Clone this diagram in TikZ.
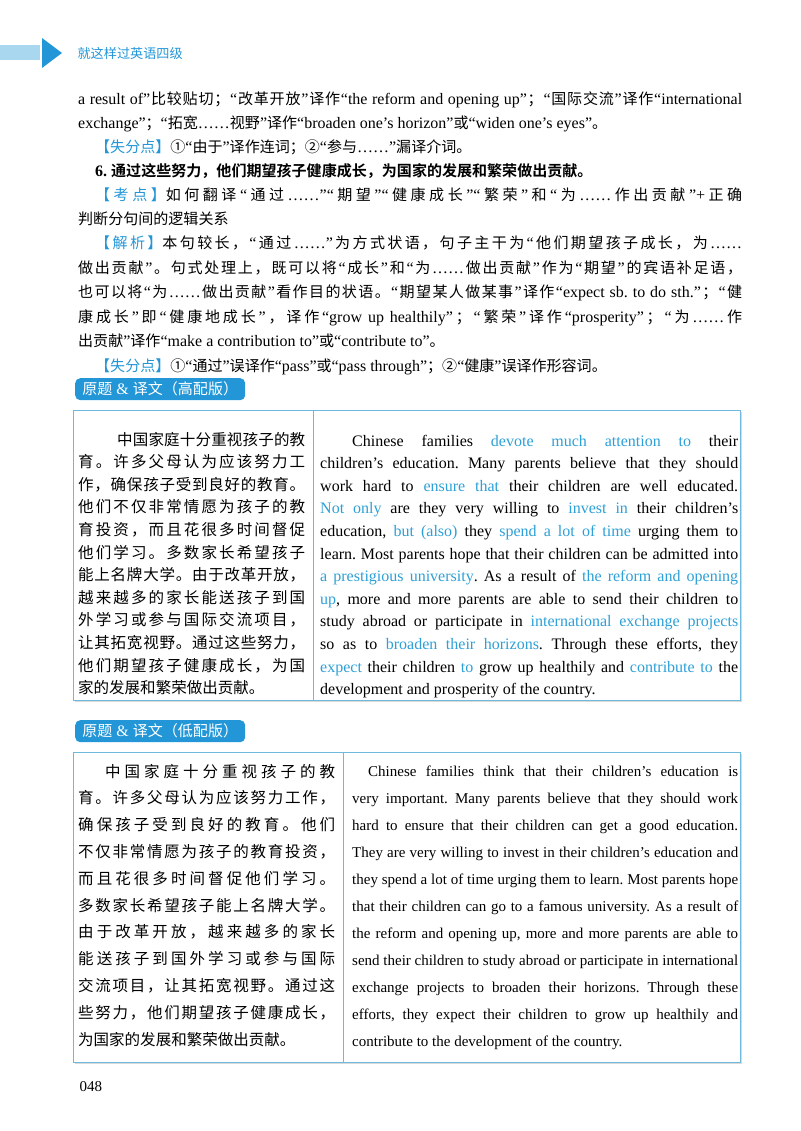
\documentclass[tikz,border=0pt]{standalone}
\usepackage{fontspec}
\setmainfont{Liberation Serif}
\newfontfamily\cjk{Noto Sans CJK SC}[Scale=0.94, BoldFont={Noto Sans CJK SC Bold}]
\usetikzlibrary{positioning}
\definecolor{pg_blue}{RGB}{35,150,215}
\definecolor{pg_light}{RGB}{170,215,240}
\definecolor{pg_hl}{RGB}{45,160,215}
\definecolor{pg_frame}{RGB}{110,185,220}
\frenchspacing
% CJK characters switch to the CJK family
\XeTeXinterchartokenstate=1
\newXeTeXintercharclass\cjkclass
\newcount\cjkc
\cjkc="3000 \loop \XeTeXcharclass\cjkc=\cjkclass \advance\cjkc by 1 \ifnum\cjkc<"A000 \repeat
\cjkc="FF00 \loop \XeTeXcharclass\cjkc=\cjkclass \advance\cjkc by 1 \ifnum\cjkc<"FFF0 \repeat
\cjkc="2460 \loop \XeTeXcharclass\cjkc=\cjkclass \advance\cjkc by 1 \ifnum\cjkc<"2474 \repeat
\XeTeXinterchartoks 0 \cjkclass = {\hskip0pt plus 3pt\cjk}
\XeTeXinterchartoks 4095 \cjkclass = {\cjk}
\XeTeXinterchartoks \cjkclass 0 = {\rmfamily\hskip0pt plus 3pt}
\XeTeXinterchartoks \cjkclass 4095 = {\rmfamily}
\XeTeXinterchartoks \cjkclass \cjkclass = {\hskip0pt plus 3pt}
\newcommand\hl[1]{\textcolor{pg_hl}{#1}}
\newcommand\tag[1]{\textcolor{pg_blue}{#1}}
\newcommand\tline[4]{\node[anchor=base west, inner sep=0pt] at (#1,#2) {\makebox[#3pt][s]{#4}};}
\newcommand\pline[3]{\node[anchor=base west, inner sep=0pt] at (#1,#2) {#3};}
\tikzset{
  labelbox/.style={fill=pg_blue, rounded corners=5pt, text=white, inner sep=3pt,
    minimum height=22pt, minimum width=170pt, anchor=north west, font=\fontsize{16}{17}\selectfont},
  tablebox/.style={draw=pg_frame, line width=0.9pt},
}
\begin{document}
\begin{tikzpicture}[x=1pt, y=-1pt]
  \useasboundingbox (0,0) rectangle (800,1131);
  % header
  \fill[pg_light] (0,45) rectangle (40,60);
  \fill[pg_blue] (42,38) -- (62,53) -- (42,68) -- cycle;
  \node[anchor=west, text=pg_blue, font=\fontsize{14}{15}\selectfont] (head) at (74,53) {就这样过英语四级};

  % notes
  \begin{scope}[every node/.style={font=\fontsize{16}{18}\selectfont}]
    \tline{78}{105}{664}{a result of”比较贴切；“改革开放”译作“the reform and opening up”；“国际交流”译作“international}
    \pline{78}{129}{exchange”；“拓宽……视野”译作“broaden one’s horizon”或“widen one’s eyes”。}
    \pline{95}{153}{\tag{【失分点】}①“由于”译作连词；②“参与……”漏译介词。}
    \pline{95}{177}{\bfseries 6. 通过这些努力，他们期望孩子健康成长，为国家的发展和繁荣做出贡献。}
    \tline{95}{201}{647}{\tag{【考点】}如何翻译“通过……”“期望”“健康成长”“繁荣”和“为……作出贡献”+正确}
    \pline{78}{225}{判断分句间的逻辑关系}
    \tline{95}{249}{647}{\tag{【解析】}本句较长，“通过……”为方式状语，句子主干为“他们期望孩子成长，为……}
    \tline{78}{273}{664}{做出贡献”。句式处理上，既可以将“成长”和“为……做出贡献”作为“期望”的宾语补足语，}
    \tline{78}{298}{664}{也可以将“为……做出贡献”看作目的状语。“期望某人做某事”译作“expect sb. to do sth.”；“健}
    \tline{78}{322}{664}{康成长”即“健康地成长”，译作“grow up healthily”；“繁荣”译作“prosperity”；“为……作}
    \pline{78}{346}{出贡献”译作“make a contribution to”或“contribute to”。}
    \pline{95}{371}{\tag{【失分点】}①“通过”误译作“pass”或“pass through”；②“健康”误译作形容词。}
  \end{scope}

  % version 1
  \node[labelbox] (label1) at (75,378) {原题 \& 译文（高配版）};
  \fill[gray!30] (75,412) rectangle (742,702);
  \draw[tablebox, fill=white] (73,410) rectangle (740,700);
  \draw[tablebox] (313,410) -- (313,700);
  \begin{scope}[every node/.style={font=\fontsize{16.5}{18}\selectfont}]
    \foreach \txt [count=\i] in {育。许多父母认为应该努力工,作，确保孩子受到良好的教育。,
        他们不仅非常情愿为孩子的教,育投资，而且花很多时间督促,他们学习。多数家长希望孩子,
        能上名牌大学。由于改革开放，,越来越多的家长能送孩子到国,外学习或参与国际交流项目，,
        让其拓宽视野。通过这些努力，,他们期望孩子健康成长，为国}
      { \tline{78}{445+22.6*\i}{227}{\txt} }
    \tline{117}{445}{188}{中国家庭十分重视孩子的教}
    \pline{78}{693.6}{家的发展和繁荣做出贡献。}
  \end{scope}
  \begin{scope}[every node/.style={font=\fontsize{16}{17}\selectfont}]
    \tline{352}{446}{386}{Chinese families \hl{devote much attention to} their}
    \tline{320}{468.6}{418}{children’s education. Many parents believe that they should}
    \tline{320}{491.2}{418}{work hard to \hl{ensure that} their children are well educated.}
    \tline{320}{513.8}{418}{\hl{Not only} are they very willing to \hl{invest in} their children’s}
    \tline{320}{536.4}{418}{education, \hl{but (also)} they \hl{spend a lot of time} urging them to}
    \tline{320}{559.0}{418}{learn. Most parents hope that their children can be admitted into}
    \tline{320}{581.6}{418}{\hl{a prestigious university}. As a result of \hl{the reform and opening}}
    \tline{320}{604.2}{418}{\hl{up}, more and more parents are able to send their children to}
    \tline{320}{626.8}{418}{study abroad or participate in \hl{international exchange projects}}
    \tline{320}{649.4}{418}{so as to \hl{broaden their horizons}. Through these efforts, they}
    \tline{320}{672.0}{418}{\hl{expect} their children \hl{to} grow up healthily and \hl{contribute to} the}
    \pline{320}{694.6}{development and prosperity of the country.}
  \end{scope}

  % version 2
  \node[labelbox] (label2) at (75,720) {原题 \& 译文（低配版）};
  \fill[gray!30] (75,754) rectangle (742,1064);
  \draw[tablebox, fill=white] (73,752) rectangle (740,1062);
  \draw[tablebox] (343,752) -- (343,1062);
  \begin{scope}[every node/.style={font=\fontsize{16.5}{18}\selectfont}]
    \tline{105}{777}{230}{中国家庭十分重视孩子的教}
    \foreach \txt [count=\i] in {育。许多父母认为应该努力工作，,确保孩子受到良好的教育。他们,
        不仅非常情愿为孩子的教育投资，,而且花很多时间督促他们学习。,多数家长希望孩子能上名牌大学。,
        由于改革开放，越来越多的家长,能送孩子到国外学习或参与国际,交流项目，让其拓宽视野。通过这,
        些努力，他们期望孩子健康成长，}
      { \tline{78}{777+26.8*\i}{257}{\txt} }
    \pline{78}{1045}{为国家的发展和繁荣做出贡献。}
  \end{scope}
  \begin{scope}[every node/.style={font=\fontsize{15}{17}\selectfont}]
    \tline{368}{776}{370}{Chinese families think that their children’s education is}
    \foreach \txt [count=\i] in {very important. Many parents believe that they should work,
        hard to ensure that their children can get a good education.,
        They are very willing to invest in their children’s education and,
        they spend a lot of time urging them to learn. Most parents hope,
        that their children can go to a famous university. As a result of,
        the reform and opening up{,} more and more parents are able to,
        send their children to study abroad or participate in international,
        exchange projects to broaden their horizons. Through these,
        efforts{,} they expect their children to grow up healthily and}
      { \tline{352}{776+27*\i}{386}{\txt} }
    \pline{352}{1046}{contribute to the development of the country.}
  \end{scope}

  \node[anchor=base west, font=\fontsize{15}{17}\selectfont] (pageno) at (76,1091) {048};
\end{tikzpicture}
\end{document}
